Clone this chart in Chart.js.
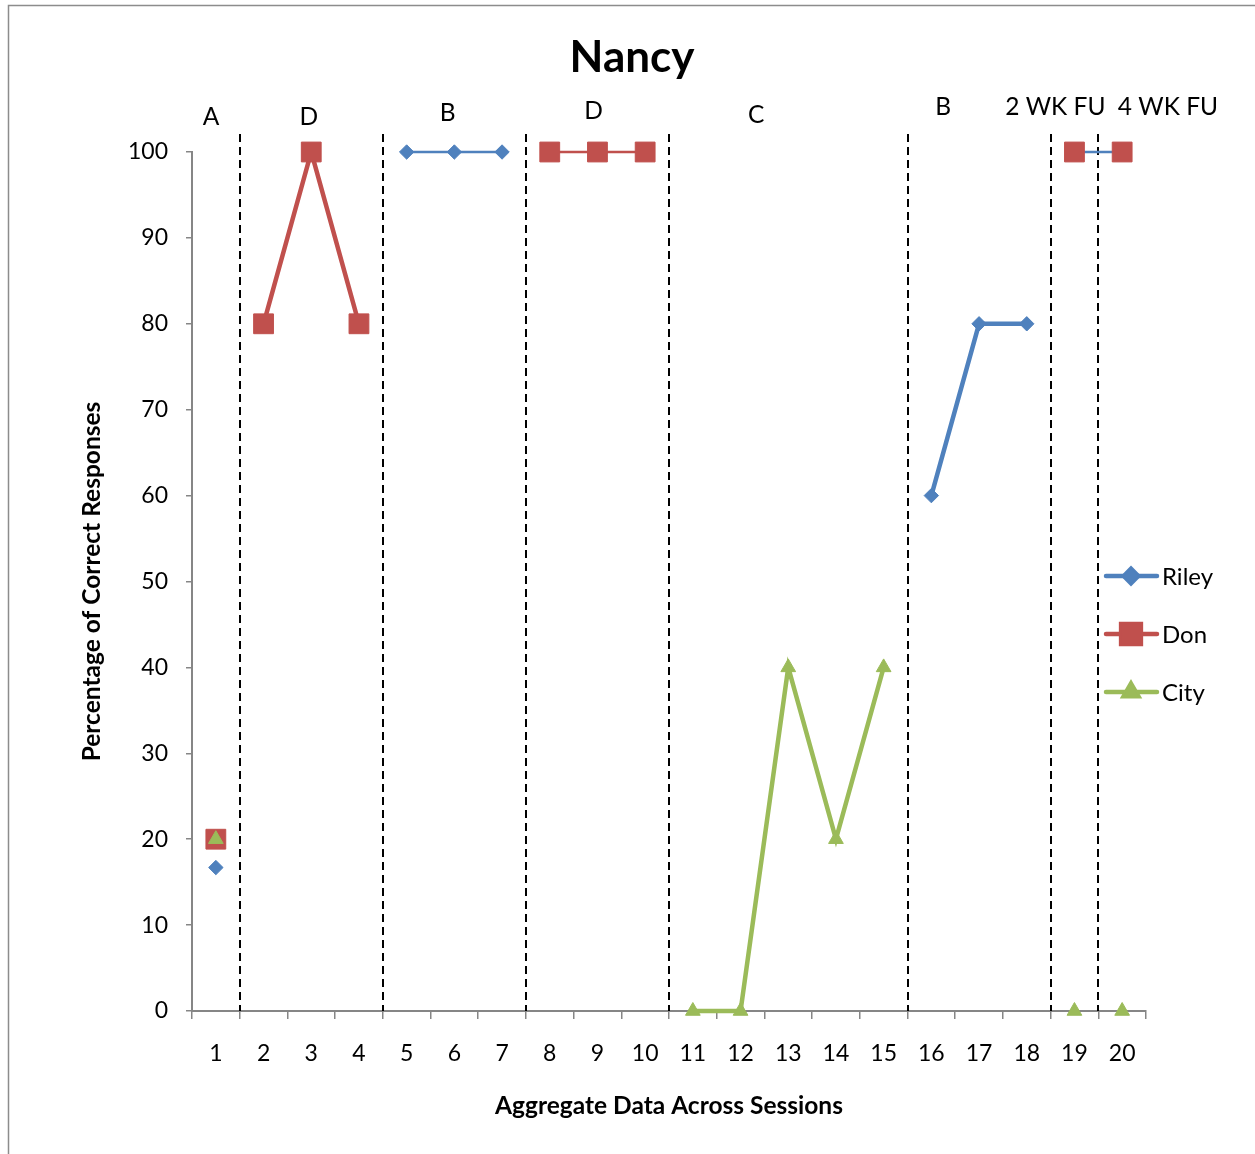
<!DOCTYPE html>
<html>
<head>
<meta charset="utf-8">
<script src="https://cdn.jsdelivr.net/npm/chart.js@4.4.1/dist/chart.umd.min.js"></script>
<style>
  html, body { margin: 0; padding: 0; background: #fff; }
  #wrap { position: relative; width: 1255px; height: 1154px; }
</style>
</head>
<body>
<div id="wrap"><canvas id="c" width="1255" height="1154"></canvas></div>
<script>
// ---- data ----
const categories = ['1','2','3','4','5','6','7','8','9','10','11','12','13','14','15','16','17','18','19','20'];
const seriesNames = ['Riley', 'Don', 'City'];
const rileyValues = [16.7, null, null, null, 100, 100, 100, null, null, null, null, null, null, null, null, 60, 80, 80, 100, 100];
const donValues   = [20, 80, 100, 80, null, null, null, 100, 100, 100, null, null, null, null, null, null, null, null, 100, 100];
const cityValues  = [20, null, null, null, null, null, null, null, null, null, 0, 0, 40, 20, 40, null, null, null, 0, 0];
const phaseLabels = ['A', 'D', 'B', 'D', 'C', 'B', '2 WK FU', '4 WK FU'];
const phaseEnds = [1, 4, 7, 10, 15, 18, 19];   // phase change after these sessions
const yTicks = [0, 10, 20, 30, 40, 50, 60, 70, 80, 90, 100];

// ---- styling ----
const FONT = 'Lato, "Open Sans", sans-serif';
const colors = { Riley: '#4F81BD', Don: '#C0504D', City: '#9BBB59' };
const THICK = 4.5, THIN = 2.6;
// segment styling (index of segment start)
const thinSeg = { Riley: [4, 5, 18], Don: [7, 8], City: [] };
const hiddenSeg = { Riley: [17], Don: [0, 18], City: [18] };
// label placement: x in category units (0 = first category), y in px above plot top
const phaseLabelPlace = [[-0.1, 35], [1.95, 35], [4.86, 39], [7.92, 41], [11.33, 37], [15.25, 45], [17.6, 45], [19.96, 45]];

function segStyle(name) {
  return {
    borderWidth: ctx => thinSeg[name].includes(ctx.p0DataIndex) ? THIN : THICK,
    borderColor: ctx => hiddenSeg[name].includes(ctx.p0DataIndex) ? 'rgba(0,0,0,0)' : colors[name]
  };
}

const decorPlugin = {
  id: 'decor',
  beforeDraw(chart) {
    const ctx = chart.ctx;
    ctx.save();
    ctx.strokeStyle = '#8c8c8c';
    ctx.lineWidth = 1.5;
    ctx.beginPath();
    ctx.moveTo(8.5, 1154);
    ctx.lineTo(8.5, 5.5);
    ctx.lineTo(1255, 5.5);
    ctx.stroke();
    ctx.restore();
  },
  beforeDatasetsDraw(chart) {
    const ctx = chart.ctx, xs = chart.scales.x, ca = chart.chartArea;
    ctx.save();
    ctx.strokeStyle = '#000';
    ctx.lineWidth = 2;
    ctx.setLineDash([8, 5]);
    phaseEnds.forEach(s => {
      const x = Math.round((xs.getPixelForValue(s - 1) + xs.getPixelForValue(s)) / 2);
      ctx.beginPath();
      ctx.moveTo(x, ca.top - 18);
      ctx.lineTo(x, ca.bottom);
      ctx.stroke();
    });
    ctx.restore();
  },
  afterDraw(chart) {
    const ctx = chart.ctx, xs = chart.scales.x, ca = chart.chartArea;
    const step = xs.getPixelForValue(1) - xs.getPixelForValue(0);
    ctx.save();
    ctx.fillStyle = '#000';
    // title
    ctx.font = 'bold 44px ' + FONT;
    ctx.textAlign = 'center';
    ctx.textBaseline = 'middle';
    ctx.fillText('Nancy', 632, 58);
    // phase labels
    ctx.font = '24.5px ' + FONT;
    phaseLabels.forEach((t, i) => {
      const [cx, dy] = phaseLabelPlace[i];
      ctx.fillText(t, xs.getPixelForValue(0) + cx * step, ca.top - dy);
    });
    // legend
    const legY = [576, 634, 692];
    seriesNames.forEach((n, i) => {
      const y = legY[i];
      ctx.strokeStyle = colors[n];
      ctx.lineWidth = THICK;
      ctx.lineCap = 'round';
      ctx.beginPath();
      ctx.moveTo(1106, y);
      ctx.lineTo(1157, y);
      ctx.stroke();
      const ds = chart.data.datasets[i];
      Chart.helpers.drawPoint(ctx, {
        pointStyle: ds.pointStyle, radius: ds.pointRadius, borderWidth: 1, rotation: 0
      }, 1131, y);
      ctx.fillStyle = colors[n];
      ctx.strokeStyle = colors[n];
      ctx.fill();
      ctx.fillStyle = '#000';
      ctx.font = '24px ' + FONT;
      ctx.textAlign = 'left';
      ctx.fillText(n, 1162, y + 1);
    });
    ctx.restore();
  }
};

function ds(name, values, style, radius, order) {
  return {
    label: name,
    data: values,
    borderColor: colors[name],
    backgroundColor: colors[name],
    pointBackgroundColor: colors[name],
    pointBorderColor: colors[name],
    pointBorderWidth: 1,
    pointStyle: style,
    pointRadius: radius,
    pointHoverRadius: radius,
    borderWidth: THICK,
    spanGaps: false,
    tension: 0,
    clip: false,
    order: order,
    segment: segStyle(name)
  };
}

new Chart(document.getElementById('c'), {
  type: 'line',
  data: {
    labels: categories,
    datasets: [
      ds('Riley', rileyValues, 'rectRot', 7.2, 3),
      ds('Don', donValues, 'rect', 14, 2),
      ds('City', cityValues, 'triangle', 8.5, 1)
    ]
  },
  options: {
    responsive: false,
    animation: false,
    events: [],
    layout: { padding: { top: 152, right: 109, left: 0, bottom: 0 } },
    plugins: { legend: { display: false }, title: { display: false }, tooltip: { enabled: false } },
    scales: {
      x: {
        type: 'category',
        offset: true,
        grid: { offset: true, drawOnChartArea: false, drawTicks: true, tickLength: 8, color: '#868686', lineWidth: 1.5 },
        border: { color: '#868686', width: 2 },
        ticks: { color: '#000', font: { family: FONT, size: 23 }, padding: 21, maxRotation: 0, autoSkip: false },
        title: { display: true, text: 'Aggregate Data Across Sessions', color: '#000', font: { family: FONT, size: 24.5, weight: 'bold' }, padding: { top: 0, bottom: 33 } },
        afterFit(s) { s.height = 143; }
      },
      y: {
        min: 0, max: 100,
        afterBuildTicks(s) { s.ticks = yTicks.map(v => ({ value: v })); },
        grid: { drawOnChartArea: false, drawTicks: true, tickLength: 6, color: '#868686', lineWidth: 1.5 },
        border: { color: '#868686', width: 2 },
        ticks: { color: '#000', font: { family: FONT, size: 23 }, padding: 18 },
        title: { display: true, text: 'Percentage of Correct Responses', color: '#000', font: { family: FONT, size: 24.5, weight: 'bold' }, padding: { top: 77, bottom: 0 } },
        afterFit(s) { s.width = 192; }
      }
    }
  },
  plugins: [decorPlugin]
});
</script>
</body>
</html>
